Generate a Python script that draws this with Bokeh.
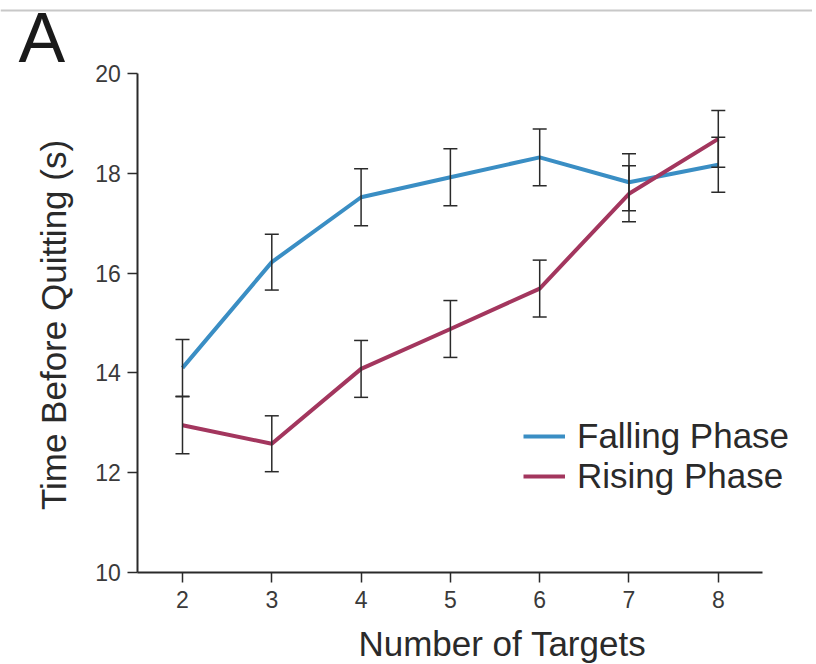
from bokeh.plotting import figure
from bokeh.models import (ColumnDataSource, Whisker, TeeHead, Label, Legend, LegendItem,
                          FixedTicker, Range1d, LinearAxis, Span)
from bokeh.embed import file_html
from bokeh.resources import INLINE

# ---- data ----
num_targets = [2, 3, 4, 5, 6, 7, 8]
falling = [14.1, 16.22, 17.52, 17.92, 18.32, 17.82, 18.17]
falling_err = [0.57, 0.56, 0.57, 0.57, 0.57, 0.57, 0.55]
rising = [12.95, 12.58, 14.08, 14.88, 15.69, 17.59, 18.69]
rising_err = [0.57, 0.56, 0.57, 0.57, 0.57, 0.56, 0.57]
y_ticks = [10, 12, 14, 16, 18, 20]
x_ticks = [2, 3, 4, 5, 6, 7, 8]
series_names = ["Falling Phase", "Rising Phase"]
x_title = "Number of Targets"
y_title = "Time Before Quitting (s)"
panel_letter = "A"

BLUE = "#3a8ec4"
RED = "#a3365e"
DARK = "#2a2a2a"
FONT = "Liberation Sans"

src_f = ColumnDataSource(dict(x=num_targets, y=falling,
                              lo=[v - e for v, e in zip(falling, falling_err)],
                              hi=[v + e for v, e in zip(falling, falling_err)]))
src_r = ColumnDataSource(dict(x=num_targets, y=rising,
                              lo=[v - e for v, e in zip(rising, rising_err)],
                              hi=[v + e for v, e in zip(rising, rising_err)]))

# frame covers the whole canvas; axes are placed at fixed data locations
p = figure(width=812, height=664, output_backend="svg", toolbar_location=None,
           x_range=Range1d(-0.038, 9.055), y_range=Range1d(8.156, 21.463),
           x_axis_location=None, y_axis_location=None, title=None,
           min_border=0, min_border_left=0, min_border_right=0,
           min_border_top=0, min_border_bottom=0)
p.outline_line_color = None
p.grid.visible = False
p.background_fill_color = "white"
p.border_fill_color = "white"

xaxis = LinearAxis(fixed_location=10, bounds=(1.5, 8.5), ticker=FixedTicker(ticks=x_ticks))
yaxis = LinearAxis(fixed_location=1.5, bounds=(10, 20), ticker=FixedTicker(ticks=y_ticks))
for ax in (xaxis, yaxis):
    ax.axis_line_color = DARK
    ax.axis_line_width = 2
    ax.major_tick_line_color = DARK
    ax.major_tick_line_width = 1.5
    ax.major_tick_in = 0
    ax.major_tick_out = 10
    ax.minor_tick_line_color = None
    ax.major_label_text_font = FONT
    ax.major_label_text_font_size = "23px"
    ax.major_label_text_color = "#3a3a3a"
xaxis.major_label_standoff = 9
yaxis.major_label_standoff = 7
p.add_layout(xaxis, "below")
p.add_layout(yaxis, "left")

# thin grey rule at the top of the panel
p.add_layout(Span(location=21.263, dimension="width", line_color="#c8c8c8", line_width=2))

r_f = p.line("x", "y", source=src_f, line_color=BLUE, line_width=4)
r_r = p.line("x", "y", source=src_r, line_color=RED, line_width=4)

for src in (src_f, src_r):
    w = Whisker(source=src, base="x", upper="hi", lower="lo", line_color=DARK,
                line_width=1.5,
                upper_head=TeeHead(size=14, line_color=DARK, line_width=1.5),
                lower_head=TeeHead(size=14, line_color=DARK, line_width=1.5),
                level="overlay")
    p.add_layout(w)

legend = Legend(items=[LegendItem(label=series_names[0], renderers=[r_f]),
                       LegendItem(label=series_names[1], renderers=[r_r])],
                location=(523, 168), background_fill_alpha=0, border_line_color=None,
                label_text_font=FONT, label_text_font_size="35px", label_text_color=DARK,
                glyph_width=42, glyph_height=40, label_height=40, label_standoff=12,
                spacing=0, padding=0, margin=0)
p.add_layout(legend, "center")

p.add_layout(Label(x=5.582, y=8.577, text=x_title, text_font=FONT,
                   text_font_size="35px", text_color=DARK, text_align="center",
                   text_baseline="alphabetic"))
p.add_layout(Label(x=0.556, y=14.96, text=y_title, angle=1.5708,
                   text_font=FONT, text_font_size="35px", text_color=DARK,
                   text_align="center", text_baseline="alphabetic"))
p.add_layout(Label(x=0.164, y=20.72, text=panel_letter, text_font=FONT,
                   text_font_size="70px", text_color="#1a1a1a", text_align="left",
                   text_baseline="alphabetic"))

open("out.html", "w").write(file_html(p, INLINE))
